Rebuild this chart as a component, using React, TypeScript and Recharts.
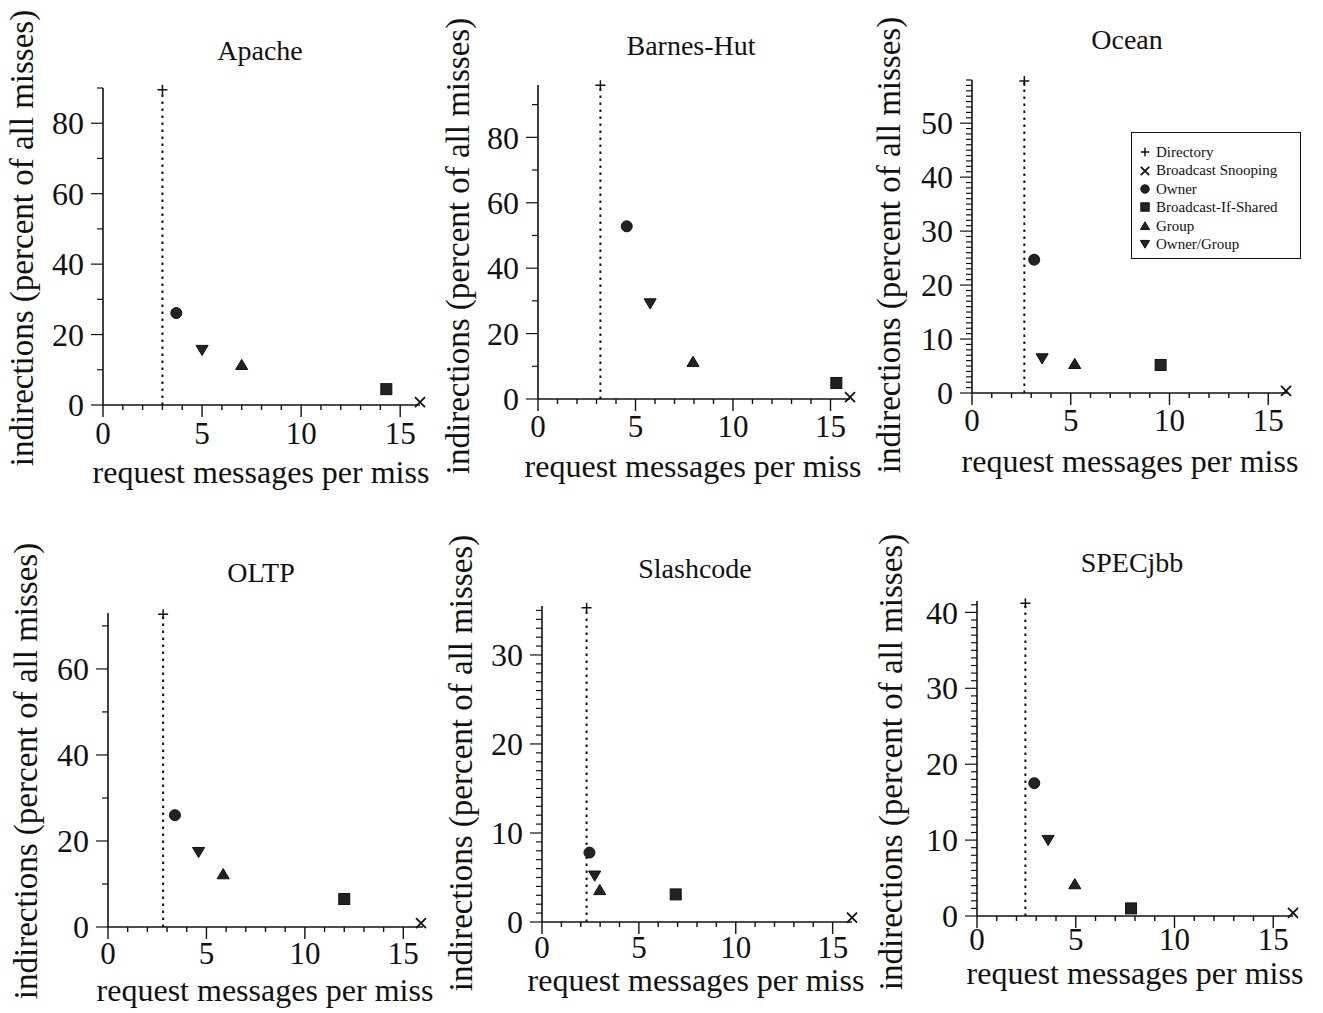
import React from "react";
import { ScatterChart, Scatter, XAxis, YAxis, ReferenceLine, Legend } from "recharts";

const SERIES = ["Directory", "Broadcast Snooping", "Owner", "Broadcast-If-Shared", "Group", "Owner/Group"];
const MARKERS = ["plus", "cross", "circle", "square", "triangle", "triangleDown"];

const BENCHMARKS = ["Apache", "Barnes-Hut", "Ocean", "OLTP", "Slashcode", "SPECjbb"];

// request messages per miss / indirections (%), same order as SERIES
const apacheMsgs = [3.0, 16.0, 3.7, 14.3, 7.0, 5.0];
const apacheInd = [89.5, 0.8, 26.1, 4.5, 11.4, 15.6];

const barnesMsgs = [3.2, 16.0, 4.55, 15.3, 7.95, 5.75];
const barnesInd = [95.9, 0.6, 52.8, 4.9, 11.4, 29.2];

const oceanMsgs = [2.65, 15.9, 3.15, 9.55, 5.2, 3.55];
const oceanInd = [57.8, 0.4, 24.7, 5.2, 5.4, 6.4];

const oltpMsgs = [2.8, 15.9, 3.4, 12.0, 5.85, 4.6];
const oltpInd = [72.7, 0.9, 26.0, 6.5, 12.3, 17.4];

const slashMsgs = [2.3, 16.0, 2.45, 6.9, 2.98, 2.72];
const slashInd = [35.3, 0.5, 7.8, 3.1, 3.6, 5.2];

const specMsgs = [2.45, 16.0, 2.9, 7.8, 4.95, 3.6];
const specInd = [41.2, 0.4, 17.5, 1.0, 4.2, 10.0];

const MSGS = [apacheMsgs, barnesMsgs, oceanMsgs, oltpMsgs, slashMsgs, specMsgs];
const INDS = [apacheInd, barnesInd, oceanInd, oltpInd, slashInd, specInd];

// axes
const X_MAJOR = [0, 5, 10, 15];
const X_MAX = 16;
const X_MINOR_LAST = 15;

const apacheYTicks = [0, 20, 40, 60, 80];
const barnesYTicks = [0, 20, 40, 60, 80];
const oceanYTicks = [0, 10, 20, 30, 40, 50];
const oltpYTicks = [0, 20, 40, 60];
const slashYTicks = [0, 10, 20, 30];
const specYTicks = [0, 10, 20, 30, 40];
const Y_TICKS = [apacheYTicks, barnesYTicks, oceanYTicks, oltpYTicks, slashYTicks, specYTicks];
const Y_MAX = [90, 96, 58, 73, 35.5, 41.5];
const Y_MINOR_STEP = [10, 10, 1, 10, 1, 1];

const AXIS_TITLE_X = "request messages per miss";
const AXIS_TITLE_Y = "indirections (percent of all misses)";

// page layout (pixel positions of each plot frame and its texts)
const W = 1323;
const H = 1013;
const Y_W = 80;
const X_H = 50;
const FRAMES = [
  { left: 103, right: 420, top: 88, bottom: 405, tickDy: 39, title: [260, 60], xTitle: [261, 483], yTitle: [33, 238] },
  { left: 538, right: 850, top: 85, bottom: 399, tickDy: 38, title: [691, 55], xTitle: [693, 477], yTitle: [469, 246] },
  { left: 972, right: 1288, top: 80, bottom: 393, tickDy: 38, title: [1127, 49], xTitle: [1130, 472], yTitle: [900, 245] },
  { left: 108, right: 423, top: 613, bottom: 927, tickDy: 37, title: [261, 582], xTitle: [265, 1001], yTitle: [37, 771] },
  { left: 542, right: 852, top: 606, bottom: 922, tickDy: 36, title: [695, 578], xTitle: [696, 991], yTitle: [472, 763] },
  { left: 977, right: 1293, top: 601, bottom: 916, tickDy: 34, title: [1132, 572], xTitle: [1135, 984], yTitle: [902, 762] },
];

const INK = "#111";
const FONT = "'Liberation Serif', 'Times New Roman', serif";

function marker(kind: string, cx: number, cy: number, s: number) {
  switch (kind) {
    case "plus":
      return <path d={`M${cx - s},${cy}H${cx + s}M${cx},${cy - s}V${cy + s}`} stroke={INK} strokeWidth={1.5} fill="none" />;
    case "cross":
      return <path d={`M${cx - s},${cy - s}L${cx + s},${cy + s}M${cx - s},${cy + s}L${cx + s},${cy - s}`} stroke={INK} strokeWidth={1.8} fill="none" />;
    case "circle":
      return <circle cx={cx} cy={cy} r={s} fill="#222" stroke={INK} strokeWidth={1} />;
    case "square":
      return <rect x={cx - s} y={cy - s} width={2 * s} height={2 * s} fill="#222" stroke={INK} strokeWidth={1} />;
    case "triangle":
      return <path d={`M${cx},${cy - s}L${cx + s * 1.1},${cy + s * 0.85}L${cx - s * 1.1},${cy + s * 0.85}Z`} fill="#222" stroke={INK} strokeWidth={1} />;
    default:
      return <path d={`M${cx},${cy + s}L${cx + s * 1.1},${cy - s * 0.85}L${cx - s * 1.1},${cy - s * 0.85}Z`} fill="#222" stroke={INK} strokeWidth={1} />;
  }
}

const shapeFor = (kind: string) => (props: any) => <g>{marker(kind, props.cx, props.cy, kind === "plus" || kind === "cross" ? 5 : 5.5)}</g>;

const makeXTick = (dy: number) => (props: any) => {
  const { x, y, payload } = props;
  const major = X_MAJOR.includes(payload.value);
  return (
    <g>
      <line x1={x} x2={x} y1={y} y2={y + (major ? 12 : 5)} stroke={INK} strokeWidth={1.4} />
      {major && (
        <text x={x} y={y + dy} textAnchor="middle" fontSize={31} fontFamily={FONT} fill={INK}>
          {payload.value}
        </text>
      )}
    </g>
  );
};

const makeYTick = (majors: number[]) => (props: any) => {
  const { x, y, payload } = props;
  const major = majors.includes(payload.value);
  return (
    <g>
      <line x1={x} x2={x - (major ? 12 : 6)} y1={y} y2={y} stroke={INK} strokeWidth={1.2} />
      {major && (
        <text x={x - 19} y={y} dy="0.35em" textAnchor="end" fontSize={32} fontFamily={FONT} fill={INK}>
          {payload.value}
        </text>
      )}
    </g>
  );
};

const LegendBox = () => (
  <div
    style={{
      border: `1.5px solid ${INK}`,
      background: "#fff",
      padding: "10px 0 0 7px",
      width: 170,
      height: 127,
      boxSizing: "border-box",
      fontFamily: FONT,
      fontSize: 15,
      lineHeight: "18.4px",
      color: INK,
    }}
  >
    {SERIES.map((s, k) => (
      <div key={s} style={{ display: "flex", alignItems: "center", whiteSpace: "nowrap" }}>
        <svg width={12} height={12} style={{ marginRight: 5 }}>
          {marker(MARKERS[k], 6, 6, 4.2)}
        </svg>
        {s}
      </div>
    ))}
  </div>
);

function Panel({ i }: { i: number }) {
  const f = FRAMES[i];
  const msgs = MSGS[i];
  const inds = INDS[i];
  const xTicks: number[] = [];
  for (let v = 0; v <= X_MINOR_LAST; v++) xTicks.push(v);
  const yTicks: number[] = [];
  for (let v = 0; v <= Y_MAX[i] + 1e-9; v += Y_MINOR_STEP[i]) yTicks.push(v);

  return (
    <div style={{ position: "absolute", left: 0, top: 0 }}>
      <ScatterChart
        width={W}
        height={H}
        margin={{ left: f.left - Y_W, top: f.top, right: W - f.right, bottom: H - f.bottom - X_H }}
      >
        <XAxis
          type="number"
          dataKey="x"
          domain={[0, X_MAX]}
          ticks={xTicks}
          interval={0}
          tickSize={0}
          tickMargin={0}
          tickLine={false}
          tick={makeXTick(f.tickDy)}
          axisLine={{ stroke: INK, strokeWidth: 1.6 }}
          height={X_H}
        />
        <YAxis
          type="number"
          dataKey="y"
          domain={[0, Y_MAX[i]]}
          ticks={yTicks}
          interval={0}
          tickSize={0}
          tickMargin={0}
          tickLine={false}
          tick={makeYTick(Y_TICKS[i])}
          axisLine={{ stroke: INK, strokeWidth: 1.6 }}
          width={Y_W}
        />
        <ReferenceLine
          segment={[{ x: msgs[0], y: 0 }, { x: msgs[0], y: inds[0] }]}
          stroke={INK}
          strokeWidth={2}
          strokeDasharray="2.5 4.5"
        />
        {SERIES.map((s, k) => (
          <Scatter
            key={s}
            name={s}
            data={[{ x: msgs[k], y: inds[k] }]}
            shape={shapeFor(MARKERS[k])}
            isAnimationActive={false}
          />
        ))}
        {i === 2 && (
          <Legend
            layout="vertical"
            align="center"
            verticalAlign="middle"
            wrapperStyle={{ left: 1131, top: 132, width: 170, height: 127 }}
            content={LegendBox}
          />
        )}
        <text x={f.title[0]} y={f.title[1]} textAnchor="middle" fontSize={28} fontFamily={FONT} fill={INK}>
          {BENCHMARKS[i]}
        </text>
        <text x={f.xTitle[0]} y={f.xTitle[1]} textAnchor="middle" fontSize={32} fontFamily={FONT} fill={INK}>
          {AXIS_TITLE_X}
        </text>
        <text
          x={f.yTitle[0]}
          y={f.yTitle[1]}
          transform={`rotate(-90 ${f.yTitle[0]} ${f.yTitle[1]})`}
          textAnchor="middle"
          fontSize={33}
          fontFamily={FONT}
          fill={INK}
        >
          {AXIS_TITLE_Y}
        </text>
      </ScatterChart>
    </div>
  );
}

export default function App() {
  return (
    <div style={{ position: "absolute", left: 0, top: 0, width: W, height: H, background: "#fff", fontFamily: FONT }}>
      {BENCHMARKS.map((b, i) => (
        <Panel key={b} i={i} />
      ))}
    </div>
  );
}
